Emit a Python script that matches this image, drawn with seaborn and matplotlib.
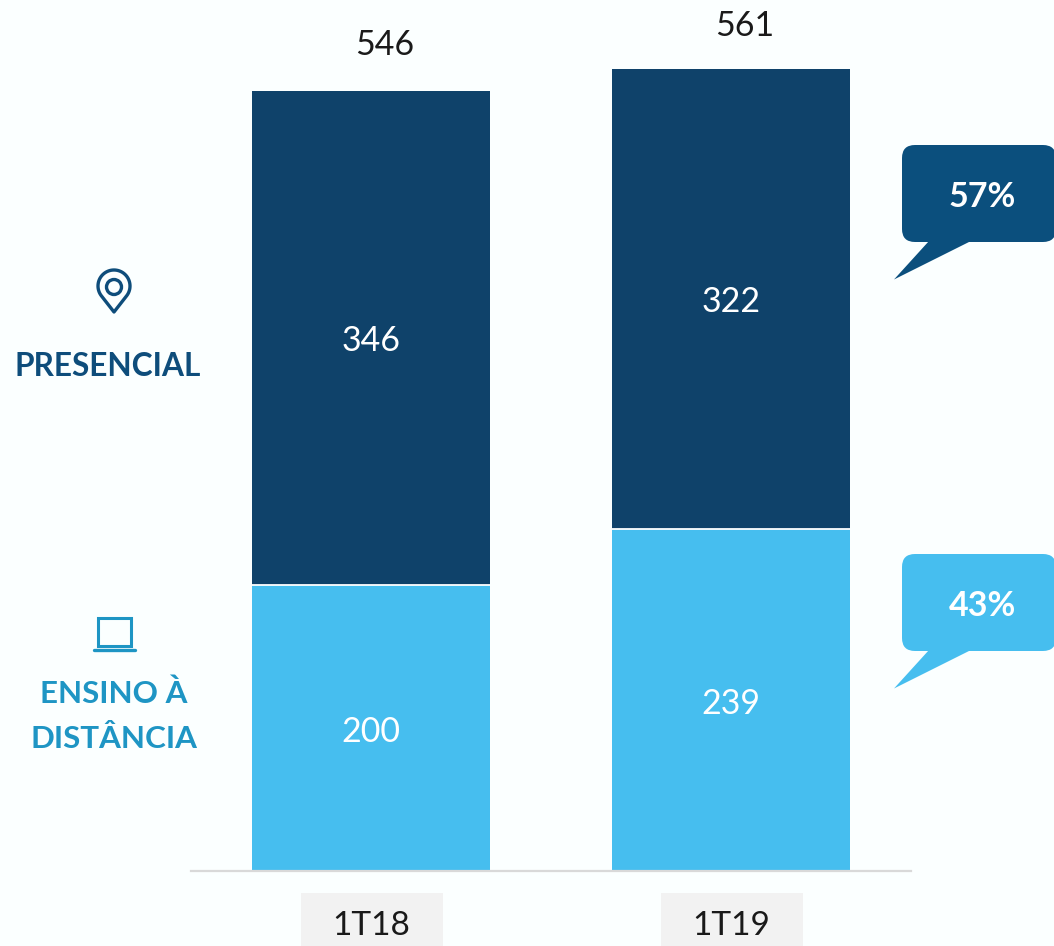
import matplotlib

matplotlib.use("Agg")
import matplotlib.pyplot as plt
import numpy as np
import pandas as pd
import seaborn as sns
from matplotlib.patches import Circle, FancyBboxPatch, Polygon, Rectangle

W, H = 1054, 946
BG = "#FBFFFF"
DARK = "#0F426A"
LIGHT = "#46BEEF"
DARK_TXT = "#0E4D7B"
LIGHT_TXT = "#1E95C4"
CALLOUT_DARK = "#0B4F7D"

quarters = ["1T18", "1T19"]
ead = [200, 239]
presencial = [346, 322]
totals = [546, 561]
shares = ["43%", "57%"]

sns.set_theme(style="white")
plt.rcParams["font.family"] = ["Lato", "DejaVu Sans"]

df = pd.DataFrame({"trimestre": quarters, "ead": ead, "presencial": presencial})

fig = plt.figure(figsize=(W / 100, H / 100), dpi=100, facecolor=BG)

# pixel overlay for the furniture around the chart
bg = fig.add_axes([0, 0, 1, 1], zorder=0)
bg.set_xlim(0, W)
bg.set_ylim(H, 0)
bg.axis("off")

ax = fig.add_axes([191 / W, (H - 871) / H, 720 / W, 871 / H], zorder=1)
ax.patch.set_alpha(0)

sns.barplot(data=df, x="trimestre", y="ead", color=LIGHT, saturation=1, width=0.661,
            linewidth=0, ax=ax)
sns.barplot(
    data=df, x="trimestre", y="presencial", bottom=df["ead"], color=DARK,
    saturation=1, width=0.661, linewidth=0, ax=ax,
)
ax.set_xlim(-0.5, 1.5)
ax.set_ylim(0, 871 / 1.429)
ax.set_xlabel("")
ax.set_ylabel("")
ax.set_yticks([])
ax.tick_params(axis="x", length=0, pad=28.5, labelsize=24, labelcolor="#1A1A1A")
sns.despine(ax=ax, left=True)
ax.spines["bottom"].set_color("#D9D9D9")
ax.spines["bottom"].set_linewidth(1.6)

# white seam between the two segments
for i, v in enumerate(ead):
    ax.hlines(v, i - 0.3305, i + 0.3305, color="white", lw=1.3, zorder=5)

total_offsets = [32.8, 31.4]
for i in range(len(quarters)):
    ax.annotate(str(ead[i]), (i, ead[i] / 2), xytext=(0, -2.6), textcoords="offset points",
                color="white", fontsize=24.5, ha="center", va="center")
    ax.annotate(str(presencial[i]), (i, ead[i] + presencial[i] / 2), xytext=(0, -2.0),
                textcoords="offset points", color="white", fontsize=24.5, ha="center", va="center")
    ax.annotate(str(totals[i]), (i, totals[i]), xytext=(10, total_offsets[i]), textcoords="offset points",
                ha="center", va="center", fontsize=24.5, color="#1A1A1A")

# grey boxes behind the quarter labels
for x0 in (301, 661):
    bg.add_patch(Rectangle((x0, 893), 142, 53, fc="#F2F2F2", ec="none"))


def callout(top, color, label):
    bg.add_patch(FancyBboxPatch((915, top + 13), 128, 71, boxstyle="round,pad=13,rounding_size=13",
                                fc=color, ec="none"))
    bg.add_patch(Polygon([(929, top + 96), (971, top + 96), (894, top + 134.5)], fc=color, ec="none"))
    bg.text(982, top + 52, label, color="white", fontsize=24.5, fontweight="bold",
            ha="center", va="center")


callout(145, CALLOUT_DARK, shares[1])
callout(554, LIGHT, shares[0])

# side labels
bg.text(107.5, 366, "PRESENCIAL", color=DARK_TXT, fontsize=22.8, fontweight="bold", ha="center", va="center")
bg.text(114, 694, "ENSINO À", color=LIGHT_TXT, fontsize=22.6, fontweight="bold", ha="center", va="center")
bg.text(114, 739, "DISTÂNCIA", color=LIGHT_TXT, fontsize=22.6, fontweight="bold", ha="center", va="center")

# pin icon
cx, cy, r, tip = 114, 286, 16, 26
half = np.arccos(r / tip)
angles = np.linspace(-np.pi / 2 + half, 1.5 * np.pi - half, 60)
outline = np.column_stack([cx + r * np.cos(angles), cy - r * np.sin(angles)])
outline = np.vstack([outline, [cx, cy + tip]])
bg.add_patch(Polygon(outline, closed=True, fc="none", ec=DARK_TXT, lw=2.4, joinstyle="round"))
bg.add_patch(Circle((cx, cy + 1), 7.5, fc="none", ec=DARK_TXT, lw=2.4))

# laptop icon
bg.add_patch(Rectangle((98, 618), 33, 27.5, fc="none", ec=LIGHT_TXT, lw=2.2))
bg.plot([94, 135], [649.5, 649.5], color=LIGHT_TXT, lw=2.4, solid_capstyle="round")

fig.savefig("out.png", dpi=100, facecolor=BG)
